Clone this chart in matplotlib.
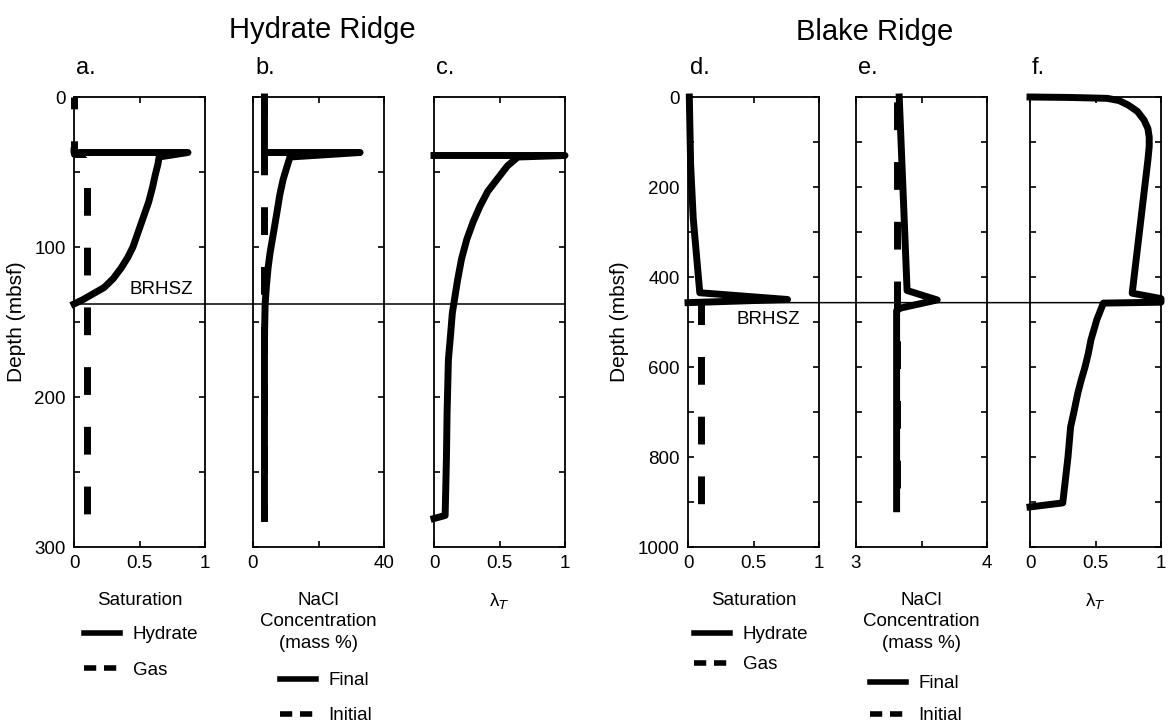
import matplotlib.pyplot as plt
from matplotlib.lines import Line2D
from matplotlib.patches import ConnectionPatch
from matplotlib.transforms import blended_transform_factory

plt.rcParams['font.family'] = ['Liberation Sans', 'DejaVu Sans']

# Hydrate Ridge profiles (depth in mbsf)
hr_hyd_depth = [36, 37, 37, 40, 45, 52, 60, 70, 80, 90, 100, 107, 114, 121, 127, 131, 135, 138]
hr_hyd_sat = [0, 0, 0.87, 0.65, 0.64, 0.62, 0.60, 0.57, 0.53, 0.49, 0.45, 0.41, 0.36, 0.30,
              0.23, 0.15, 0.07, 0]
hr_gas_depth = [0, 38, 38, 280]
hr_gas_sat = [0, 0, 0.1, 0.1]
hr_nacl_depth = [0, 37, 37, 40, 47, 55, 65, 77, 90, 104, 114, 126, 138, 155, 170, 281]
hr_nacl_final = [3.5, 3.5, 32.7, 11.3, 10.3, 9.2, 8.2, 7.3, 6.3, 5.2, 4.6, 4.1, 3.7, 3.55, 3.5, 3.5]
hr_init_depth = [0, 281]
hr_nacl_init = [3.5, 3.5]
hr_lam_depth = [39, 39, 40, 46, 55, 63, 73, 83, 95, 108, 122, 133, 144, 160, 175, 210, 240,
                260, 279, 281]
hr_lam = [0, 1.0, 0.64, 0.56, 0.48, 0.41, 0.35, 0.30, 0.25, 0.21, 0.18, 0.16, 0.14, 0.125,
          0.11, 0.10, 0.095, 0.09, 0.085, 0]
hr_brhsz = 138

# Blake Ridge profiles
br_hyd_depth = [0, 150, 270, 435, 450, 457]
br_hyd_sat = [0.01, 0.02, 0.04, 0.09, 0.76, 0.0]
br_gas_depth = [457, 905]
br_gas_sat = [0.1, 0.1]
br_nacl_depth = [0, 430, 451, 469, 475, 915]
br_nacl_final = [3.33, 3.39, 3.62, 3.34, 3.31, 3.31]
br_init_depth = [0, 915]
br_nacl_init = [3.31, 3.31]
br_lam_depth = [0, 1, 3, 8, 18, 32, 51, 70, 89, 110, 140, 436, 448, 456, 458, 495, 540, 570,
                600, 630, 658, 700, 733, 800, 902, 911]
br_lam = [0, 0.3, 0.59, 0.68, 0.75, 0.82, 0.87, 0.90, 0.91, 0.91, 0.90, 0.78, 1.0, 1.0, 0.56,
          0.51, 0.465, 0.445, 0.42, 0.39, 0.365, 0.335, 0.31, 0.29, 0.25, 0]
br_brhsz = 457

W, H = 1168, 724
fig = plt.figure(figsize=(W / 100, H / 100), dpi=100)

top, bot = 97, 547
lefts = [74, 253, 434, 688, 856, 1030]
width = 131
axes = []
for l in lefts:
    axes.append(fig.add_axes([l / W, 1 - bot / H, width / W, (bot - top) / H]))
ax_a, ax_b, ax_c, ax_d, ax_e, ax_f = axes

LW = 5
fs = 13.5

def dash(offset):
    return (offset, (4, 4.6))

def style(ax, xlim, xticks, xlabels, ylim, ystep, ylabels):
    ax.set_xlim(xlim)
    ax.set_ylim(ylim)
    ax.set_xticks(xticks)
    ax.set_xticklabels(xlabels)
    yt = list(range(0, ylim[0] + 1, ystep))
    ax.set_yticks(yt)
    if ylabels:
        ax.set_yticklabels([str(v) if v % (2 * ystep) == 0 else '' for v in yt])
    else:
        ax.set_yticklabels([])
    ax.tick_params(direction='in', top=True, right=True, length=4, width=1.2,
                   labelsize=fs, pad=6)
    for s in ax.spines.values():
        s.set_linewidth(1.3)

def line(ax, x, y, ls='-'):
    ax.plot(x, y, color='black', lw=LW, ls=ls, clip_on=False)

nacl_label = 'NaCl\nConcentration\n(mass %)'

# a
line(ax_a, hr_gas_sat, hr_gas_depth, dash(2.3))
line(ax_a, hr_hyd_sat, hr_hyd_depth)
style(ax_a, (0, 1), [0, 0.5, 1], ['0', '0.5', '1'], (300, 0), 50, True)
ax_a.set_ylabel('Depth (mbsf)', fontsize=15, labelpad=6)
ax_a.set_xlabel('Saturation', fontsize=fs, labelpad=14)
ax_a.text(0.42, 128, 'BRHSZ', fontsize=fs, va='center')

# b
line(ax_b, hr_nacl_init, hr_init_depth, dash(1.4))
line(ax_b, hr_nacl_final, hr_nacl_depth)
style(ax_b, (0, 40), [0, 20, 40], ['0', '', '40'], (300, 0), 50, False)
ax_b.set_xlabel(nacl_label, fontsize=fs, labelpad=14, linespacing=1.35)

# c
line(ax_c, hr_lam, hr_lam_depth)
style(ax_c, (0, 1), [0, 0.5, 1], ['0', '0.5', '1'], (300, 0), 50, False)
ax_c.set_xlabel('λ$_T$', fontsize=fs, labelpad=14)

# d
line(ax_d, br_gas_sat, br_gas_depth, dash(0.9))
line(ax_d, br_hyd_sat, br_hyd_depth)
style(ax_d, (0, 1), [0, 0.5, 1], ['0', '0.5', '1'], (1000, 0), 100, True)
ax_d.set_ylabel('Depth (mbsf)', fontsize=15, labelpad=6)
ax_d.set_xlabel('Saturation', fontsize=fs, labelpad=14)
ax_d.text(0.37, 495, 'BRHSZ', fontsize=fs, va='center')

# e
line(ax_e, br_nacl_init, br_init_depth, dash(7.9))
line(ax_e, br_nacl_final, br_nacl_depth)
style(ax_e, (3, 4), [3, 3.5, 4], ['3', '', '4'], (1000, 0), 100, False)
ax_e.set_xlabel(nacl_label, fontsize=fs, labelpad=14, linespacing=1.35)

# f
line(ax_f, br_lam, br_lam_depth)
style(ax_f, (0, 1), [0, 0.5, 1], ['0', '0.5', '1'], (1000, 0), 100, False)
ax_f.set_xlabel('λ$_T$', fontsize=fs, labelpad=14)

# BRHSZ lines across panels
for a0, a1, d in [(ax_a, ax_c, hr_brhsz), (ax_d, ax_f, br_brhsz)]:
    con = ConnectionPatch(xyA=(0, d), coordsA=blended_transform_factory(a0.transAxes, a0.transData),
                          xyB=(1, d), coordsB=blended_transform_factory(a1.transAxes, a1.transData),
                          color='black', lw=1.1)
    fig.add_artist(con)

# legends
solid_h = Line2D([], [], color='black', lw=4)
dash_h = Line2D([], [], color='black', lw=4, ls=(0, (2.2, 1.4)))
for ax, labels, xpx, ypx, sp in [(ax_a, ['Hydrate', 'Gas'], 84, 626, 1.0),
                                 (ax_b, ['Final', 'Initial'], 280, 672, 0.95),
                                 (ax_d, ['Hydrate', 'Gas'], 694, 626, 0.7),
                                 (ax_e, ['Final', 'Initial'], 870, 675, 0.8)]:
    ax.legend([solid_h, dash_h], labels, loc='upper left', frameon=False, fontsize=fs,
              bbox_to_anchor=(xpx / W, 1 - ypx / H), bbox_transform=fig.transFigure,
              borderpad=0, borderaxespad=0, handlelength=1.9, handletextpad=0.7,
              labelspacing=sp)

# titles and panel letters
fig.text(322 / W, 1 - 30 / H, 'Hydrate Ridge', fontsize=21, ha='center', va='center')
fig.text(875 / W, 1 - 32 / H, 'Blake Ridge', fontsize=21, ha='center', va='center')
for l, letter in zip(lefts, 'abcdef'):
    fig.text((l + 2) / W, 1 - 68 / H, letter + '.', fontsize=17, ha='left', va='center')

fig.savefig('out.png', dpi=100)
